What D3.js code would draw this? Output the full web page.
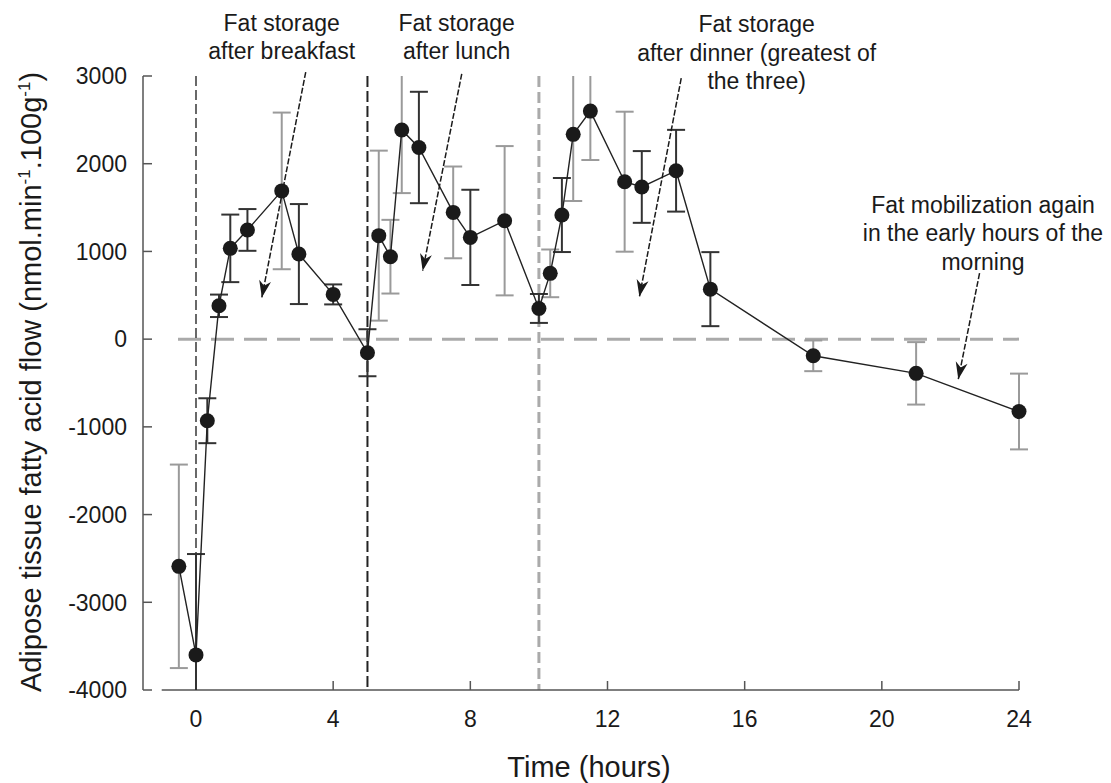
<!DOCTYPE html>
<html>
<head>
<meta charset="utf-8">
<script src="https://cdn.jsdelivr.net/npm/d3@7"></script>
<style>
  body { margin: 0; background: #fff; }
  svg { display: block; font-family: "Liberation Sans", Arial, sans-serif; }
</style>
</head>
<body>
<div id="chart"></div>
<script>
// time (hours) of each sample
const hours = [-0.5, 0, 0.33, 0.67, 1, 1.5, 2.5, 3, 4, 5, 5.33, 5.67, 6, 6.5, 7.5, 8, 9,
  10, 10.33, 10.67, 11, 11.5, 12.5, 13, 14, 15, 18, 21, 24];
// mean adipose tissue fatty acid flow
const flow = [-2590, -3600, -930, 380, 1035, 1245, 1690, 970, 510, -155, 1180, 940, 2385, 2185,
  1445, 1160, 1350, 350, 750, 1415, 2335, 2600, 1795, 1735, 1920, 570, -190, -390, -825];
// half-width of the error bars
const err = [1160, 1150, 256, 128, 385, 238, 893, 570, 114, 268, 969, 420, 720, 635,
  523, 543, 851, 165, 272, 422, 760, 558, 798, 409, 466, 422, 175, 356, 432];

const xTicks = [0, 4, 8, 12, 16, 20, 24];
const yTicks = [3000, 2000, 1000, 0, -1000, -2000, -3000, -4000];
const meals = [0, 5, 10];

const notes = [
  { lines: ["Fat storage", "after breakfast"], from: [3.2, 3045], to: [1.92, 475] },
  { lines: ["Fat storage", "after lunch"], from: [7.75, 3025], to: [6.61, 780] },
  { lines: ["Fat storage", "after dinner (greatest of", "the three)"], from: [14.15, 2975], to: [12.93, 482] },
  { lines: ["Fat mobilization again", "in the early hours of the", "morning"], from: [22.85, 752], to: [22.23, -456] }
];
// label anchor (hour, value) of the first line of each note
const noteAt = [[2.5, 3515], [7.6, 3515], [16.35, 3500], [22.95, 1440]];

const W = 1111, H = 783;
const x = d3.scaleLinear().domain([0, 24]).range([196, 1019]);
const y = d3.scaleLinear().domain([-4000, 3000]).range([690, 76]);

const svg = d3.select("#chart").append("svg")
    .attr("width", W).attr("height", H);

const defs = svg.append("defs");
defs.append("marker")
    .attr("id", "head")
    .attr("viewBox", "-18 -7 20 14")
    .attr("refX", 0).attr("refY", 0)
    .attr("markerWidth", 20).attr("markerHeight", 14)
    .attr("markerUnits", "userSpaceOnUse")
    .attr("orient", "auto")
  .append("path")
    .attr("d", "M0,0L-17,-6L-12,0L-17,6Z")
    .attr("fill", "#1a1a1a");

defs.append("clipPath").attr("id", "plot")
  .append("rect")
    .attr("x", 100).attr("y", y(3000) - 1)
    .attr("width", 960).attr("height", y(-4000) - y(3000) + 1);

// zero line
svg.append("line")
    .attr("x1", 178).attr("x2", x(24))
    .attr("y1", y(0)).attr("y2", y(0))
    .attr("stroke", "#aaa").attr("stroke-width", 3)
    .attr("stroke-dasharray", "23,10");

// meal lines
const mealStyle = [
  { c: "#444", w: 1.6, d: "10,4" },
  { c: "#222", w: 2, d: "11,4" },
  { c: "#aaa", w: 3, d: "11,5" }
];
meals.forEach((m, i) => {
  svg.append("line")
      .attr("x1", x(m)).attr("x2", x(m))
      .attr("y1", y(3000)).attr("y2", y(-4000))
      .attr("stroke", mealStyle[i].c)
      .attr("stroke-width", mealStyle[i].w)
      .attr("stroke-dasharray", mealStyle[i].d);
});

// axes
const axisColor = "#555";
svg.append("line")
    .attr("x1", 143).attr("x2", 143)
    .attr("y1", y(3000)).attr("y2", y(-4000))
    .attr("stroke", axisColor).attr("stroke-width", 1.5);
svg.append("g").selectAll("line").data(yTicks).join("line")
    .attr("x1", 143).attr("x2", 152)
    .attr("y1", d => y(d)).attr("y2", d => y(d))
    .attr("stroke", axisColor).attr("stroke-width", 1.5);
svg.append("g").selectAll("text").data(yTicks).join("text")
    .attr("x", 127).attr("y", d => y(d))
    .attr("dy", "0.36em")
    .attr("text-anchor", "end")
    .attr("font-size", 23)
    .attr("fill", "#1a1a1a")
    .text(d => d);

svg.append("line")
    .attr("x1", x(-1)).attr("x2", x(24))
    .attr("y1", y(-4000)).attr("y2", y(-4000))
    .attr("stroke", axisColor).attr("stroke-width", 1.5);
svg.append("g").selectAll("line").data(xTicks).join("line")
    .attr("x1", d => x(d)).attr("x2", d => x(d))
    .attr("y1", y(-4000)).attr("y2", y(-4000) - 9)
    .attr("stroke", axisColor).attr("stroke-width", 1.5);
svg.append("g").selectAll("text").data(xTicks).join("text")
    .attr("x", d => x(d)).attr("y", 727)
    .attr("text-anchor", "middle")
    .attr("font-size", 23)
    .attr("fill", "#1a1a1a")
    .text(d => d);

svg.append("text")
    .attr("x", 589).attr("y", 777)
    .attr("text-anchor", "middle")
    .attr("font-size", 29)
    .attr("fill", "#1a1a1a")
    .text("Time (hours)");

const yt = svg.append("text")
    .attr("transform", "translate(41,382) rotate(-90)")
    .attr("text-anchor", "middle")
    .attr("font-size", 29)
    .attr("fill", "#1a1a1a");
yt.append("tspan").text("Adipose tissue fatty acid flow (nmol.min");
yt.append("tspan").attr("font-size", 17).attr("dy", -11).text("-1");
yt.append("tspan").attr("dy", 11).text(".100g");
yt.append("tspan").attr("font-size", 17).attr("dy", -11).text("-1");
yt.append("tspan").attr("dy", 11).text(")");

// error bars
const pts = hours.map((h, i) => ({ h, v: flow[i], e: err[i], i }));
const greyBars = new Set([0, 6, 10, 11, 12, 14, 16, 18, 20, 21, 22, 26, 27, 28]);
const bars = svg.append("g").attr("clip-path", "url(#plot)");
pts.forEach(p => {
  const c = greyBars.has(p.i) ? "#9a9a9a" : "#333";
  const top = p.v + p.e, bot = p.v - p.e;
  bars.append("line")
      .attr("x1", x(p.h)).attr("x2", x(p.h))
      .attr("y1", y(Math.min(top, 3000))).attr("y2", y(Math.max(bot, -4200)))
      .attr("stroke", c).attr("stroke-width", 2);
  [top, bot].forEach(t => {
    if (t > 3000 || t < -4000) return;
    bars.append("line")
        .attr("x1", x(p.h) - 9).attr("x2", x(p.h) + 9)
        .attr("y1", y(t)).attr("y2", y(t))
        .attr("stroke", c).attr("stroke-width", 2);
  });
});

// mean line and points
svg.append("path")
    .datum(pts)
    .attr("fill", "none")
    .attr("stroke", "#222")
    .attr("stroke-width", 1.4)
    .attr("d", d3.line().x(d => x(d.h)).y(d => y(d.v)));

svg.append("g").selectAll("circle").data(pts).join("circle")
    .attr("cx", d => x(d.h)).attr("cy", d => y(d.v))
    .attr("r", 7.5)
    .attr("fill", "#1a1a1a");

// annotations
notes.forEach((n, k) => {
  svg.append("line")
      .attr("x1", x(n.from[0])).attr("y1", y(n.from[1]))
      .attr("x2", x(n.to[0])).attr("y2", y(n.to[1]))
      .attr("stroke", "#1a1a1a").attr("stroke-width", 1.5)
      .attr("stroke-dasharray", "6,2")
      .attr("marker-end", "url(#head)");
  const t = svg.append("text")
      .attr("x", x(noteAt[k][0])).attr("y", y(noteAt[k][1]))
      .attr("text-anchor", "middle")
      .attr("font-size", 23)
      .attr("fill", "#1a1a1a");
  n.lines.forEach((l, j) => {
    t.append("tspan")
        .attr("x", x(noteAt[k][0]))
        .attr("dy", j ? 28.5 : 0)
        .text(l);
  });
});
</script>
</body>
</html>
